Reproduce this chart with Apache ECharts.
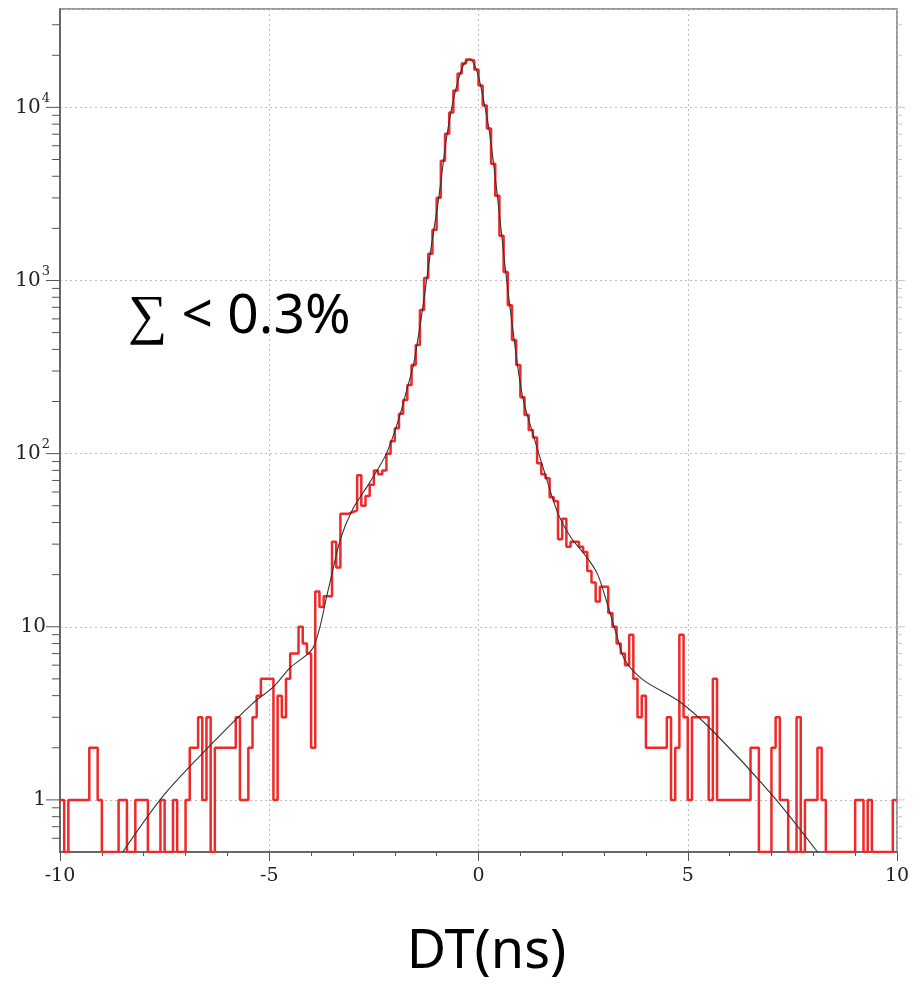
<!DOCTYPE html>
<html><head><meta charset="utf-8">
<script src="https://cdn.jsdelivr.net/npm/echarts@6/dist/echarts.min.js"></script>
<style>html,body{margin:0;padding:0;background:#fff}#c{width:924px;height:985px}</style>
</head><body><div id="c"></div>
<script>
// ---- data ----
const binStart = -10;
const binWidth = 0.1;
// counts per 0.1 ns bin, from -10 to +10 (200 bins)
const counts = [
  1,0,1,1,1,1,1,2,2,1,      0,0,0,0,1,1,0,0,1,1,
  1,0,0,0,1,0,0,1,0,0,      1,2,2,3,1,3,0,2,2,2,
  2,2,3,1,1,2,3,4,5,5,      5,1,4,3,5,7,7,10,8,7,
  2,16,13,15,15,31,22,45,45,46,  47,75,50,57,66,80,76,80,100,118,
  140,170,204,249,325,424,676,1035,1426,1963,  3006,4923,7050,9330,12500,15700,17900,18900,18660,16560,
  13380,10240,7540,4730,3090,1812,1121,720,453,325,  212,167,137,124,88,76,72,56,53,32,
  42,29,31,31,29,27,21,18,14,17,  17,12,10,8,7,6,9,5,3,4,
  2,2,2,2,2,3,1,2,9,3,      1,3,3,3,3,1,5,1,1,1,
  1,1,1,1,1,2,2,0,0,0,      2,3,1,1,0,0,3,0,1,1,
  1,2,1,0,0,0,0,0,0,0,      1,1,0,1,0,0,0,0,0,1
];
// fitted curve (thin dark line)
const fitX = [-8.5,-7.5,-6.3,-5.4,-4.9,-4.5,-3.95,-3.6,-3.3,-3.0,-2.6,-2.2,-1.9,-1.7,-1.55,-1.35,-1.15,-0.95,-0.75,-0.55,-0.35,-0.2,-0.05,0.05,0.25,0.45,0.65,0.85,1.05,1.3,1.6,1.9,2.2,2.6,2.85,3.1,3.3,3.5,3.95,4.8,5.6,7.0,8.1];
const fitY = [0.5,1.08,2.2,3.6,4.5,5.8,7.6,16,32,48,68,100,160,240,330,650,1450,3000,7000,12500,17800,18900,16500,13400,7500,3100,1120,460,215,130,75,45,33,25,20,13,9,6.4,4.9,3.7,2.5,1.08,0.5];
const xMin = -10, xMax = 10, xInterval = 5;
const yMin = 0.5, yMax = 37000;
const yMajorTicks = [1, 10, 100, 1000, 10000];
const yMinorTicks = [0.6,0.7,0.8,0.9, 2,3,4,5,6,7,8,9, 20,30,40,50,60,70,80,90,
  200,300,400,500,600,700,800,900, 2000,3000,4000,5000,6000,7000,8000,9000, 20000,30000];
const xAxisTitle = 'DT(ns)';
const annotation = '\u2211 < 0.3%';

// ---- build series data ----
const histData = counts.map((c, i) => [binStart + i * binWidth, c > 0 ? c : yMin]); // empty bins drop to the axis floor
histData.push([binStart + counts.length * binWidth, counts[counts.length - 1] > 0 ? counts[counts.length - 1] : yMin]);
const fitData = fitX.map((x, i) => [x, fitY[i]]);
const tickData = yMajorTicks.map(v => [xMin, v, 1]).concat(yMinorTicks.map(v => [xMin, v, 0]));

const chart = echarts.init(document.getElementById('c'), null, {renderer: 'canvas'});
const serif = 'DejaVu Serif';
chart.setOption({
  animation: false,
  backgroundColor: '#fff',
  grid: {left: 60, right: 27, top: 9, bottom: 133, show: true, borderColor: '#9a9a9a', borderWidth: 2, backgroundColor: 'transparent'},
  xAxis: {
    type: 'value', min: xMin, max: xMax, interval: xInterval,
    name: xAxisTitle, nameLocation: 'middle', nameGap: 74,
    nameTextStyle: {fontFamily: 'Noto Sans', fontSize: 54, color: '#000', padding: [0, 0, 0, 16]},
    axisLine: {show: true, onZero: false, lineStyle: {color: '#555', width: 1.5}},
    axisTick: {show: true, length: 9, inside: false, lineStyle: {color: '#555'}},
    minorTick: {show: true, splitNumber: 5, length: 4, lineStyle: {color: '#555'}},
    axisLabel: {fontFamily: serif, fontSize: 19, color: '#222', margin: 15},
    splitLine: {show: true, lineStyle: {color: '#bdbdbd', type: [2, 3], width: 1}}
  },
  yAxis: {
    type: 'log', logBase: 10, min: yMin, max: yMax,
    axisLine: {show: true, onZero: false, lineStyle: {color: '#555', width: 1.5}},
    axisTick: {show: false},
    axisLabel: {
      margin: 10, color: '#222', fontFamily: serif, fontSize: 19,
      formatter: function (v) {
        const l = Math.log10(v), e = Math.round(l);
        if (Math.abs(l - e) > 1e-6) return '';
        if (e === 0) return '{b|1}{g| }';
        if (e === 1) return '{b|10}{g| }';
        return '{b|10}{s|' + e + '}';
      },
      rich: {
        b: {fontFamily: serif, fontSize: 20, color: '#222'},
        s: {fontFamily: serif, fontSize: 13, color: '#222', padding: [0, 0, 18, 1]},
        g: {fontFamily: serif, fontSize: 13, color: 'transparent'}
      }
    },
    splitLine: {show: true, lineStyle: {color: '#bdbdbd', type: [2, 3], width: 1}}
  },
  graphic: [{
    type: 'text', left: 128, top: 290, silent: true,
    style: {text: annotation, fontFamily: 'Noto Sans', fontSize: 55, fill: '#000'}
  }],
  series: [
    {
      type: 'line', name: 'histogram', data: histData, step: 'end',
      showSymbol: false, symbol: 'none', clip: true, z: 3,
      lineStyle: {color: '#f02828', width: 2.5}
    },
    {
      type: 'line', name: 'fit', data: fitData, smooth: 0.3,
      showSymbol: false, symbol: 'none', clip: true, z: 4,
      lineStyle: {color: '#333', width: 1.1}
    },
    {
      type: 'custom', name: 'yticks', data: tickData, silent: true, z: 5,
      encode: {x: 0, y: 1},
      renderItem: function (params, api) {
        const v = api.value(1), major = api.value(2);
        const pL = api.coord([xMin, v]);
        const pR = api.coord([xMax, v]);
        const len = major ? 14 : 8;
        return {type: 'group', children: [
          {type: 'line', shape: {x1: pL[0] - len, y1: pL[1], x2: pL[0], y2: pL[1]}, style: {stroke: '#555', lineWidth: 1}},
          {type: 'line', shape: {x1: pR[0], y1: pR[1], x2: pR[0] + (major ? 8 : 5), y2: pR[1]}, style: {stroke: '#c8c8c8', lineWidth: 1}}
        ]};
      }
    }
  ]
});
</script>
</body></html>
